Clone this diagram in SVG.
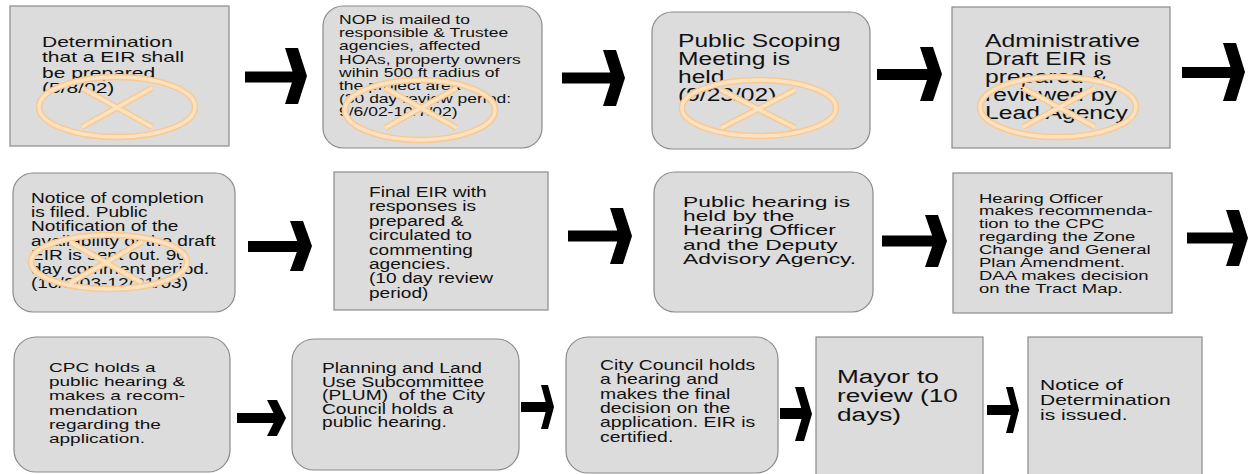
<svg xmlns="http://www.w3.org/2000/svg" width="1250" height="474" viewBox="0 0 1250 474">
<style>
.box{fill:#dcdcdc;stroke:#8a8a8a;stroke-width:1.2}
.t{font-family:"Liberation Sans",Arial,Helvetica,sans-serif;fill:#111}
.mark{fill:none;stroke:#f8c990;stroke-width:6.5}
.mark2{fill:none;stroke:#fde2c2;stroke-width:3.5}
.arrow{fill:#000}
</style>
<rect width="1250" height="474" fill="#ffffff"/>

<g id="n1">
<rect class="box" x="10" y="6" width="219" height="140"/>
<text class="t" font-size="21" transform="translate(42,47) scale(1,0.72)"><tspan x="0" dy="0">Determination</tspan><tspan x="0" dy="21.5">that a EIR shall</tspan><tspan x="0" dy="21.5">be prepared</tspan><tspan x="0" dy="21.5">(5/8/02)</tspan></text>
<ellipse class="mark" cx="117" cy="107" rx="78" ry="30"/>
<path class="mark" d="M82,88 L152,127 M152,88 L82,127"/>
<ellipse class="mark2" cx="117" cy="107" rx="78" ry="30"/>
<path class="mark2" d="M82,88 L152,127 M152,88 L82,127"/>
</g>

<g id="n2">
<rect class="box" x="323" y="6" width="219" height="142" rx="20" ry="20"/>
<text class="t" font-size="17.5" transform="translate(339,24) scale(1,0.72)"><tspan x="0" dy="0">NOP is mailed to</tspan><tspan x="0" dy="18.3">responsible &amp; Trustee</tspan><tspan x="0" dy="18.3">agencies, affected</tspan><tspan x="0" dy="18.3">HOAs, property owners</tspan><tspan x="0" dy="18.3">wihin 500 ft radius of</tspan><tspan x="0" dy="18.3">the project area</tspan><tspan x="0" dy="18.3">(30 day review period:</tspan><tspan x="0" dy="18.3">9/6/02-10/7/02)</tspan></text>
<ellipse class="mark" cx="420" cy="110" rx="75" ry="30"/>
<path class="mark" d="M385,88 L457,128 M457,88 L385,128"/>
<ellipse class="mark2" cx="420" cy="110" rx="75" ry="30"/>
<path class="mark2" d="M385,88 L457,128 M457,88 L385,128"/>
</g>

<g id="n3">
<rect class="box" x="652" y="12" width="218" height="137" rx="20" ry="20"/>
<text class="t" font-size="24.6" transform="translate(678,47) scale(1,0.72)"><tspan x="0" dy="0">Public Scoping</tspan><tspan x="0" dy="25">Meeting is</tspan><tspan x="0" dy="25">held.</tspan><tspan x="0" dy="25">(9/23/02)</tspan></text>
<ellipse class="mark" cx="759" cy="108" rx="77" ry="28"/>
<path class="mark" d="M721,90 L795,128 M795,90 L721,128"/>
<ellipse class="mark2" cx="759" cy="108" rx="77" ry="28"/>
<path class="mark2" d="M721,90 L795,128 M795,90 L721,128"/>
</g>

<g id="n4">
<rect class="box" x="952" y="7" width="218" height="141"/>
<text class="t" font-size="24.7" transform="translate(985,47) scale(1,0.72)"><tspan x="0" dy="0">Administrative</tspan><tspan x="0" dy="25">Draft EIR is</tspan><tspan x="0" dy="25">prepared &amp;</tspan><tspan x="0" dy="25">reviewed by</tspan><tspan x="0" dy="25">Lead Agency</tspan></text>
<ellipse class="mark" cx="1058" cy="107" rx="78" ry="30"/>
<path class="mark" d="M1023,88 L1095,127 M1095,88 L1023,127"/>
<ellipse class="mark2" cx="1058" cy="107" rx="78" ry="30"/>
<path class="mark2" d="M1023,88 L1095,127 M1095,88 L1023,127"/>
</g>

<g id="n5">
<rect class="box" x="13" y="173" width="222" height="139" rx="20" ry="20"/>
<text class="t" font-size="19.1" transform="translate(31,203) scale(1,0.72)"><tspan x="0" dy="0">Notice of completion</tspan><tspan x="0" dy="19.7">is filed. Public</tspan><tspan x="0" dy="19.7">Notification of the</tspan><tspan x="0" dy="19.7">availability of the draft</tspan><tspan x="0" dy="19.7">EIR is sent out. 90</tspan><tspan x="0" dy="19.7">day comment period.</tspan><tspan x="0" dy="19.7">(10/2/03-12/31/03)</tspan></text>
<ellipse class="mark" cx="109" cy="262" rx="78" ry="27"/>
<path class="mark" d="M70,242 L142,283 M142,242 L70,283"/>
<ellipse class="mark2" cx="109" cy="262" rx="78" ry="27"/>
<path class="mark2" d="M70,242 L142,283 M142,242 L70,283"/>
</g>

<g id="n6">
<rect class="box" x="334" y="172" width="214" height="138"/>
<text class="t" font-size="19.1" transform="translate(369,197) scale(1,0.72)"><tspan x="0" dy="0">Final EIR with</tspan><tspan x="0" dy="20">responses is</tspan><tspan x="0" dy="20">prepared &amp;</tspan><tspan x="0" dy="20">circulated to</tspan><tspan x="0" dy="20">commenting</tspan><tspan x="0" dy="20">agencies.</tspan><tspan x="0" dy="20">(10 day review</tspan><tspan x="0" dy="20">period)</tspan></text>
</g>

<g id="n7">
<rect class="box" x="654" y="172" width="219" height="140" rx="21" ry="21"/>
<text class="t" font-size="22.8" transform="translate(683,207) scale(1,0.63)"><tspan x="0" dy="0">Public hearing is</tspan><tspan x="0" dy="22.5">held by the</tspan><tspan x="0" dy="22.5">Hearing Officer</tspan><tspan x="0" dy="22.5">and the Deputy</tspan><tspan x="0" dy="22.5">Advisory Agency.</tspan></text>
</g>

<g id="n8">
<rect class="box" x="953" y="173" width="219" height="140"/>
<text class="t" font-size="18.5" transform="translate(979,202.5) scale(1,0.72)"><tspan x="0" dy="0">Hearing Officer</tspan><tspan x="0" dy="17.9">makes recommenda-</tspan><tspan x="0" dy="17.9">tion to the CPC</tspan><tspan x="0" dy="17.9">regarding the Zone</tspan><tspan x="0" dy="17.9">Change and General</tspan><tspan x="0" dy="17.9">Plan Amendment.</tspan><tspan x="0" dy="17.9">DAA makes decision</tspan><tspan x="0" dy="17.9">on the Tract Map.</tspan></text>
</g>

<g id="n9">
<rect class="box" x="14" y="337" width="216" height="135" rx="22" ry="22"/>
<text class="t" font-size="19" transform="translate(49,372) scale(1,0.72)"><tspan x="0" dy="0">CPC holds a</tspan><tspan x="0" dy="19.7">public hearing &amp;</tspan><tspan x="0" dy="19.7">makes a recom-</tspan><tspan x="0" dy="19.7">mendation</tspan><tspan x="0" dy="19.7">regarding the</tspan><tspan x="0" dy="19.7">application.</tspan></text>
</g>

<g id="n10">
<rect class="box" x="292" y="339" width="227" height="131" rx="22" ry="22"/>
<text class="t" font-size="19.2" style="white-space:pre" transform="translate(322,373) scale(1,0.72)"><tspan x="0" dy="0">Planning and Land</tspan><tspan x="0" dy="18.8">Use Subcommittee</tspan><tspan x="0" dy="18.8">(PLUM)  of the City</tspan><tspan x="0" dy="18.8">Council holds a</tspan><tspan x="0" dy="18.8">public hearing.</tspan></text>
</g>

<g id="n11">
<rect class="box" x="566" y="337" width="212" height="136" rx="22" ry="22"/>
<text class="t" font-size="19.4" transform="translate(600,370) scale(1,0.72)"><tspan x="0" dy="0">City Council holds</tspan><tspan x="0" dy="19.9">a hearing and</tspan><tspan x="0" dy="19.9">makes the final</tspan><tspan x="0" dy="19.9">decision on the</tspan><tspan x="0" dy="19.9">application. EIR is</tspan><tspan x="0" dy="19.9">certified.</tspan></text>
</g>

<g id="n12">
<rect class="box" x="816" y="337" width="167" height="145"/>
<text class="t" font-size="26.2" transform="translate(837,383) scale(1,0.68)"><tspan x="0" dy="0">Mayor to</tspan><tspan x="0" dy="27.9">review (10</tspan><tspan x="0" dy="27.9">days)</tspan></text>
</g>

<g id="n13">
<rect class="box" x="1028" y="337" width="174" height="145"/>
<text class="t" font-size="21" transform="translate(1040,390) scale(1,0.72)"><tspan x="0" dy="0">Notice of</tspan><tspan x="0" dy="21">Determination</tspan><tspan x="0" dy="21">is issued.</tspan></text>
</g>

<g id="connectors" class="arrow">
<path d="M245,71.5 H294 V82.5 H245 Z M285,48 H298 L307,76 L298,104 H285 L294,76 Z"/>
<path d="M562,72.5 H612 V83.5 H562 Z M603,50 H616 L625,78 L616,106 H603 L612,78 Z"/>
<path d="M877,69 H929 V80 H877 Z M920,47 H933 L942,74 L933,101 H920 L929,74 Z"/>
<path d="M1182,67 H1232 V78 H1182 Z M1223,43 H1236 L1245,72 L1236,101 H1223 L1232,72 Z"/>
<path d="M248,241 H299 V252 H248 Z M290,221 H303 L312,246 L303,271 H290 L299,246 Z"/>
<path d="M568,230.5 H619 V241.5 H568 Z M610,208 H623 L632,236 L623,264 H610 L619,236 Z"/>
<path d="M882,235.5 H934 V246.5 H882 Z M925,215 H938 L947,241 L938,267 H925 L934,241 Z"/>
<path d="M1187,232.5 H1235 V243.5 H1187 Z M1226,210 H1239 L1248,238 L1239,266 H1226 L1235,238 Z"/>
<path d="M237,413 H276 V423 H237 Z M267,400 H277 L286,418 L277,436 H267 L276,418 Z"/>
<path d="M521,402 H547 V412 H521 Z M541,385 H548 L554,407 L548,429 H541 L547,407 Z"/>
<path d="M780,408 H803 V419 H780 Z M795,387 H804 L812,414 L804,441 H795 L803,414 Z"/>
<path d="M987,405 H1012 V415 H987 Z M1006,387 H1013 L1019,410 L1013,433 H1006 L1012,410 Z"/>
</g>
</svg>
